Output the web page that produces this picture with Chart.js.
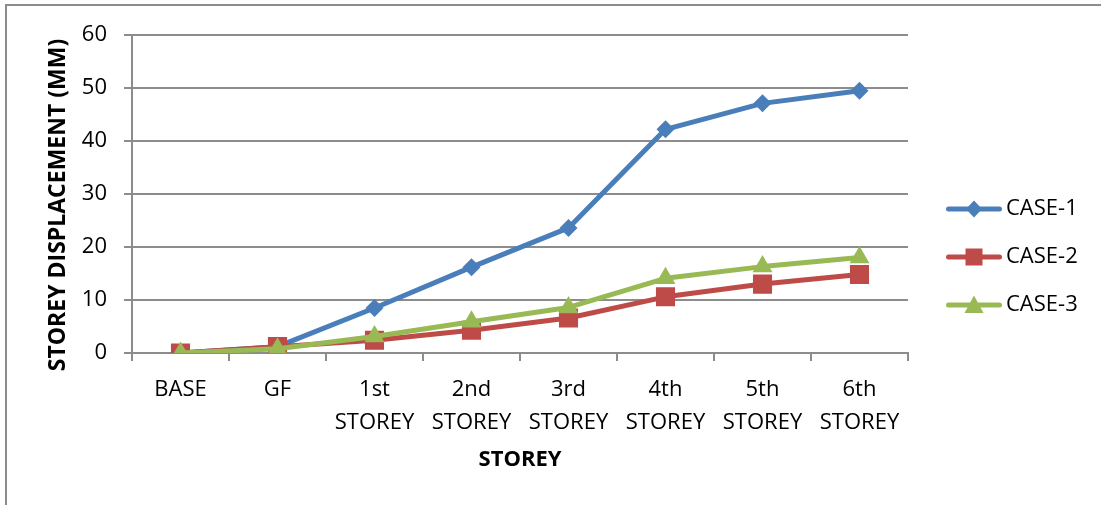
<!DOCTYPE html>
<html><head><meta charset="utf-8">
<script src="https://cdn.jsdelivr.net/npm/chart.js@4.4.1/dist/chart.umd.min.js"></script>
<style>
html,body{margin:0;padding:0;background:#fff;}
#wrap{position:relative;width:1101px;height:505px;overflow:hidden;}
#frame{position:absolute;left:5px;top:4px;right:-10px;bottom:-10px;border-left:2px solid #8c8c8c;border-top:2px solid #8c8c8c;pointer-events:none;}
canvas{position:absolute;left:0;top:0;}
</style></head><body>
<div id="wrap"><canvas id="c" width="1101" height="505"></canvas><div id="frame"></div></div>
<script>
// ---- data ----
const categories = ['BASE', 'GF', ['1st', 'STOREY'], ['2nd', 'STOREY'], ['3rd', 'STOREY'], ['4th', 'STOREY'], ['5th', 'STOREY'], ['6th', 'STOREY']];
const case1 = [0, 1.2, 8.5, 16.2, 23.6, 42.2, 47.1, 49.5];
const case2 = [0, 1.2, 2.4, 4.3, 6.6, 10.6, 13.0, 14.8];
const case3 = [0, 0.8, 3.1, 5.9, 8.6, 14.1, 16.3, 18.0];
const seriesNames = ['CASE-1', 'CASE-2', 'CASE-3'];
const yMin = 0, yMax = 60, yStep = 10;
const xTitle = 'STOREY';
const yTitle = 'STOREY DISPLACEMENT (MM)';

// ---- styles ----
const colors = ['#4A7EBB', '#BE4B48', '#98B954'];
const pStyles = ['rectRot', 'rect', 'triangle'];
const pRadii = [9, 13.5, 11.5];
const FONT = "'Open Sans', 'DejaVu Sans', sans-serif";
const gridColor = '#8c8c8c';

function legendIcon(color, style) {
  const c = document.createElement('canvas');
  c.width = 75; c.height = 26;
  const g = c.getContext('2d');
  g.strokeStyle = color; g.lineWidth = 5; g.lineCap = 'round';
  g.beginPath(); g.moveTo(21.5, 13); g.lineTo(72.5, 13); g.stroke();
  g.fillStyle = color;
  const cx = 47, cy = 13;
  g.beginPath();
  if (style === 'rectRot') { g.moveTo(cx, cy - 8.5); g.lineTo(cx + 8, cy); g.lineTo(cx, cy + 8.5); g.lineTo(cx - 8, cy); }
  else if (style === 'rect') { g.rect(cx - 8.5, cy - 8.5, 17, 17); }
  else { g.moveTo(cx, cy - 9.5); g.lineTo(cx + 9.5, cy + 8); g.lineTo(cx - 9.5, cy + 8); }
  g.closePath(); g.fill();
  return c;
}

const series = [case1, case2, case3];
const datasets = series.map((d, i) => ({
  label: seriesNames[i],
  data: d,
  borderColor: colors[i],
  backgroundColor: colors[i],
  pointBackgroundColor: colors[i],
  pointBorderColor: colors[i],
  pointBorderWidth: 0,
  pointStyle: pStyles[i],
  pointRadius: pRadii[i],
  pointHoverRadius: pRadii[i],
  borderWidth: 5,
  borderJoinStyle: 'round',
  borderCapStyle: 'round',
  tension: 0,
  order: 3 - i
}));

// legend sizing
const LEG_FONT = 22, LEG_PAD = 26, ICON_W = 61;
const mctx = document.createElement('canvas').getContext('2d');
mctx.font = LEG_FONT + 'px ' + FONT;
const tw = Math.max(...seriesNames.map(s => mctx.measureText(s).width));
const legendWidth = LEG_PAD + ICON_W + LEG_FONT / 2 + tw + 10;
const plotRight = 908;
const padRight = 1101 - plotRight - legendWidth;

const yTitlePlugin = {
  id: 'yTitle',
  afterDraw(chart) {
    const ctx = chart.ctx;
    ctx.save();
    ctx.translate(58, 205);
    ctx.rotate(-Math.PI / 2);
    ctx.font = 'bold 23px ' + FONT;
    ctx.fillStyle = '#000';
    ctx.textAlign = 'center';
    ctx.textBaseline = 'middle';
    ctx.fillText(yTitle, 0, 0);
    ctx.restore();
  }
};

new Chart(document.getElementById('c'), {
  type: 'line',
  data: { labels: categories, datasets },
  plugins: [yTitlePlugin],
  options: {
    responsive: false,
    animation: false,
    devicePixelRatio: 1,
    layout: { padding: { left: 0, top: 35, bottom: 26, right: padRight } },
    plugins: {
      tooltip: { enabled: false },
      legend: {
        position: 'right',
        align: 'center',
        labels: {
          usePointStyle: true,
          pointStyleWidth: ICON_W,
          padding: LEG_PAD,
          color: '#000',
          font: { family: FONT, size: LEG_FONT },
          generateLabels: (chart) => chart.data.datasets.map((ds, i) => ({
            text: ds.label,
            datasetIndex: i,
            fillStyle: ds.borderColor,
            strokeStyle: ds.borderColor,
            lineWidth: 0,
            hidden: false,
            fontColor: '#000',
            pointStyle: legendIcon(ds.borderColor, pStyles[i])
          }))
        }
      }
    },
    scales: {
      x: {
        offset: true,
        grid: { offset: true, drawOnChartArea: false, drawTicks: true, tickLength: 8, color: gridColor, lineWidth: 2 },
        border: { display: true, color: gridColor, width: 2 },
        ticks: { color: '#000', font: { family: FONT, size: 22, lineHeight: 1.5 }, padding: 12, maxRotation: 0, autoSkip: false },
        title: { display: true, text: xTitle, color: '#000', font: { family: FONT, size: 22, weight: 'bold' }, padding: { top: 0, bottom: 6 } },
        afterFit(scale) { scale.height = 505 - 26 - 353; }
      },
      y: {
        min: yMin, max: yMax,
        grid: { color: gridColor, lineWidth: 2, tickLength: 8, drawTicks: true },
        border: { display: true, color: gridColor, width: 2 },
        ticks: { stepSize: yStep, color: '#000', font: { family: FONT, size: 22 }, padding: 17 },
        title: { display: false },
        afterFit(scale) { scale.width = 132; }
      }
    }
  }
});
</script>
</body></html>
